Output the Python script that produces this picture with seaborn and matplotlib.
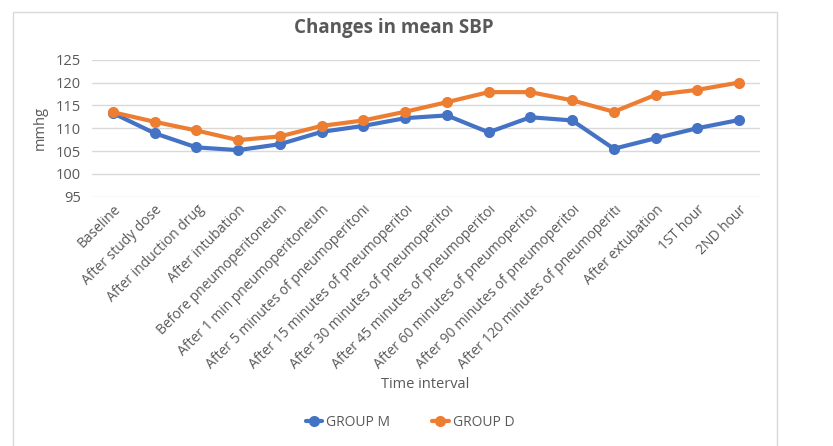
import pandas as pd
import seaborn as sns
import matplotlib.pyplot as plt
from matplotlib.lines import Line2D

time_labels = [
    "Baseline",
    "After study dose",
    "After induction drug",
    "After intubation",
    "Before pneumoperitoneum",
    "After 1 min pneumoperitoneum",
    "After 5 minutes of pneumoperitonı",
    "After 15 minutes of pneumoperitoı",
    "After 30 minutes of pneumoperitoı",
    "After 45 minutes of pneumoperitoı",
    "After 60 minutes of pneumoperitoı",
    "After 90 minutes of pneumoperitoı",
    "After 120 minutes of pneumoperitı",
    "After extubation",
    "1ST hour",
    "2ND hour",
]
group_m = [113.3, 108.9, 105.8, 105.2, 106.5, 109.2, 110.5, 112.2,
           112.8, 109.1, 112.4, 111.7, 105.5, 107.8, 110.0, 111.8]
group_d = [113.5, 111.4, 109.5, 107.4, 108.2, 110.5, 111.7, 113.6,
           115.7, 117.9, 117.9, 116.1, 113.6, 117.3, 118.4, 120.0]
series_names = ["GROUP M", "GROUP D"]
colors = ["#4472C4", "#ED7D31"]

df = pd.DataFrame({
    "idx": list(range(len(time_labels))) * 2,
    "value": group_m + group_d,
    "group": [series_names[0]] * len(group_m) + [series_names[1]] * len(group_d),
})

sns.set_style("white")
plt.rcParams["font.family"] = ["Open Sans", "DejaVu Sans"]
text_col = "#595959"

fig = plt.figure(figsize=(8.33, 4.46), dpi=100)
ax = fig.add_axes([92 / 833, 1 - 196.7 / 446, (760 - 92) / 833, (196.7 - 59.7) / 446])

sns.lineplot(
    data=df, x="idx", y="value", hue="group", palette=colors,
    marker="o", markersize=8, markeredgewidth=0, linewidth=3,
    legend=False, ax=ax,
)

ax.set_xlim(-0.5, len(time_labels) - 0.5)
ax.set_ylim(95, 125)
ax.set_yticks(range(95, 126, 5))
ax.yaxis.grid(True, color="#D9D9D9", linewidth=1)
for s in ax.spines.values():
    s.set_visible(False)
ax.set_xticks(range(len(time_labels)))
ax.set_xticklabels(time_labels, rotation=45, ha="right", rotation_mode="anchor",
                   fontsize=10, color=text_col)
ax.tick_params(axis="y", labelsize=10.5, labelcolor=text_col, length=0, pad=8)
ax.tick_params(axis="x", length=0, pad=4)
ax.set_xlabel("")
ax.set_ylabel("")

fig.text(40 / 833, 1 - 128 / 446, "mmhg", rotation=90, ha="center", va="center",
         fontsize=10.5, color=text_col)
fig.text(425 / 833, 1 - 385 / 446, "Time interval", ha="center", va="center",
         fontsize=10.5, color=text_col)
fig.text(394 / 833, 1 - 28 / 446, "Changes in mean SBP", ha="center", va="center",
         fontsize=13.5, fontweight="bold", color=text_col)

handles = [Line2D([0], [0], color=c, lw=3, marker="o", markersize=8,
                  markeredgewidth=0) for c in colors]
fig.legend(handles, series_names, loc="center", bbox_to_anchor=(410 / 833, 1 - 422 / 446),
           ncol=2, frameon=False, fontsize=10, labelcolor=text_col,
           handlelength=1.2, columnspacing=3.0, handletextpad=0.3)

# chart border
border = plt.Rectangle((12.5 / 833, -0.05), (777 - 12.5) / 833, 1.05 - 12.5 / 446,
                       transform=fig.transFigure, fill=False, edgecolor="#D9D9D9",
                       linewidth=1)
fig.patches.append(border)

fig.savefig("out.png", dpi=100)
